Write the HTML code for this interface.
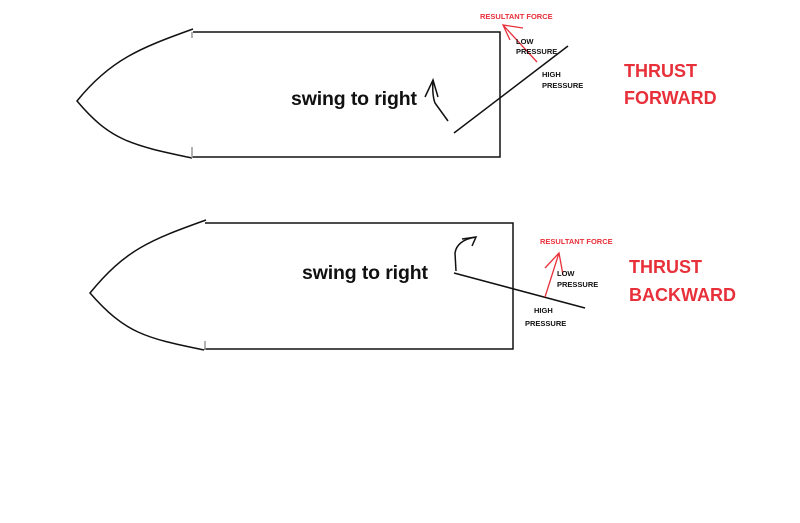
<!DOCTYPE html>
<html><head><style>
body{margin:0;background:#fff;}
svg{display:block;}
text{font-family:"Liberation Sans",sans-serif;font-weight:bold;}
</style></head><body>
<svg width="800" height="523" viewBox="0 0 800 523">
<g fill="none" stroke="#111" stroke-width="1.5">
<!-- top hull -->
<path d="M193 32 H500 V157 H192"/>
<path d="M193 29 C140 48 110 60 77 101 C110 140 130 145 192 158"/>
<line x1="192" y1="32" x2="192" y2="38" stroke="#999"/>
<line x1="192" y1="147" x2="192" y2="158" stroke="#999"/>
<!-- bottom hull -->
<path d="M205 223 H513 V349 H204"/>
<path d="M206 220 C150 240 125 250 90 293 C125 333 145 338 204 350"/>
<line x1="205" y1="341" x2="205" y2="350" stroke="#999"/>
<!-- top propeller line -->
<line x1="454" y1="133" x2="568" y2="46"/>
<!-- top swing arrow -->
<path d="M448 121 L435 103 Q432 95 433 80"/>
<path d="M425 97 L433 80 L438 97"/>
<!-- bottom prop line -->
<line x1="454" y1="273" x2="585" y2="308"/>
<!-- bottom swing arrow -->
<path d="M456 271 L455 253 Q457 240 476 237"/>
<path d="M462 239 L476 237 L472 246"/>
</g>
<g fill="none" stroke="#e8303a" stroke-width="1.3">
<line x1="537" y1="62" x2="503" y2="25"/>
<path d="M510 40 L503 25 L523 28"/>
<line x1="545" y1="297" x2="559" y2="253"/>
<path d="M545 268 L559 253 L563 275"/>
</g>
<g font-size="7.5" fill="#111">
<text x="516" y="44">LOW</text>
<text x="516" y="54">PRESSURE</text>
<text x="542" y="77">HIGH</text>
<text x="542" y="88">PRESSURE</text>
<text x="557" y="276">LOW</text>
<text x="557" y="287">PRESSURE</text>
<text x="534" y="313">HIGH</text>
<text x="525" y="326">PRESSURE</text>
</g>
<g font-size="7.5" fill="#e8303a">
<text x="480" y="19">RESULTANT FORCE</text>
<text x="540" y="244">RESULTANT FORCE</text>
</g>
<g font-size="19.5" fill="#111">
<text x="291" y="105" textLength="126">swing to right</text>
<text x="302" y="279" textLength="126">swing to right</text>
</g>
<g font-size="18" fill="#e8303a">
<text x="624" y="77">THRUST</text>
<text x="624" y="104">FORWARD</text>
<text x="629" y="273">THRUST</text>
<text x="629" y="301">BACKWARD</text>
</g>
</svg>
</body></html>
